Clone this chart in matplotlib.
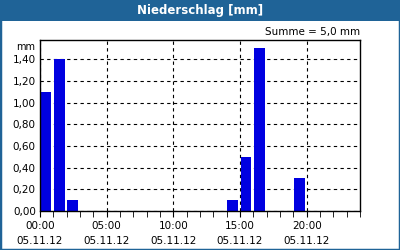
import matplotlib
matplotlib.use("Agg")
import matplotlib.pyplot as plt
from matplotlib.patches import Rectangle
from matplotlib.ticker import MultipleLocator, FuncFormatter

# hourly precipitation on 05.11.12 (hour index -> mm)
hours = [0, 1, 2, 14, 15, 16, 19]
values = [1.1, 1.4, 0.1, 0.1, 0.5, 1.5, 0.3]
tick_hours = [0, 5, 10, 15, 20]
tick_labels = ["00:00\n05.11.12", "05:00\n05.11.12", "10:00\n05.11.12",
               "15:00\n05.11.12", "20:00\n05.11.12"]
title = "Niederschlag [mm]"
summe = "Summe = 5,0 mm"

BLUE_BAR = "#1f6397"

plt.rcParams["font.family"] = ["DejaVu Sans"]
fig = plt.figure(figsize=(4, 2.5), dpi=100)

# frame + title bar
fig.patches.append(Rectangle((0, 0), 1, 1, transform=fig.transFigure,
                             fill=False, edgecolor=BLUE_BAR, linewidth=2.5))
fig.patches.append(Rectangle((0, 0.915), 1, 0.085, transform=fig.transFigure,
                             facecolor=BLUE_BAR, edgecolor="none"))
fig.text(0.5, 0.957, title, color="white", fontsize=8.5, fontweight="bold",
         ha="center", va="center")
fig.text(0.9, 0.872, summe, fontsize=7.5, ha="right", va="center")
fig.text(0.065, 0.812, "mm", fontsize=7, ha="center", va="center")

ax = fig.add_axes([0.1, 0.156, 0.8, 0.684])
ax.bar([h + 0.45 for h in hours], values, width=0.8, color="#0000e0", zorder=3)
ax.set_xlim(0, 24)
ax.set_ylim(0, 1.578)

ax.set_xticks(tick_hours)
ax.set_xticklabels(tick_labels, fontsize=7.5, linespacing=1.6)
ax.xaxis.set_minor_locator(MultipleLocator(1))
ax.yaxis.set_major_locator(MultipleLocator(0.2))
ax.yaxis.set_major_formatter(FuncFormatter(lambda v, p: f"{v:.2f}".replace(".", ",")))
ax.tick_params(axis="y", labelsize=7.5, length=0, pad=3)
ax.tick_params(axis="x", which="major", length=4, pad=3)
ax.tick_params(axis="x", which="minor", length=4)

ax.grid(True, which="major", color="black", linestyle=(0, (3, 3)), linewidth=0.8, zorder=1)
ax.set_axisbelow(True)
for s in ax.spines.values():
    s.set_linewidth(1)
    s.set_zorder(4)

fig.savefig("out.png", dpi=100)
